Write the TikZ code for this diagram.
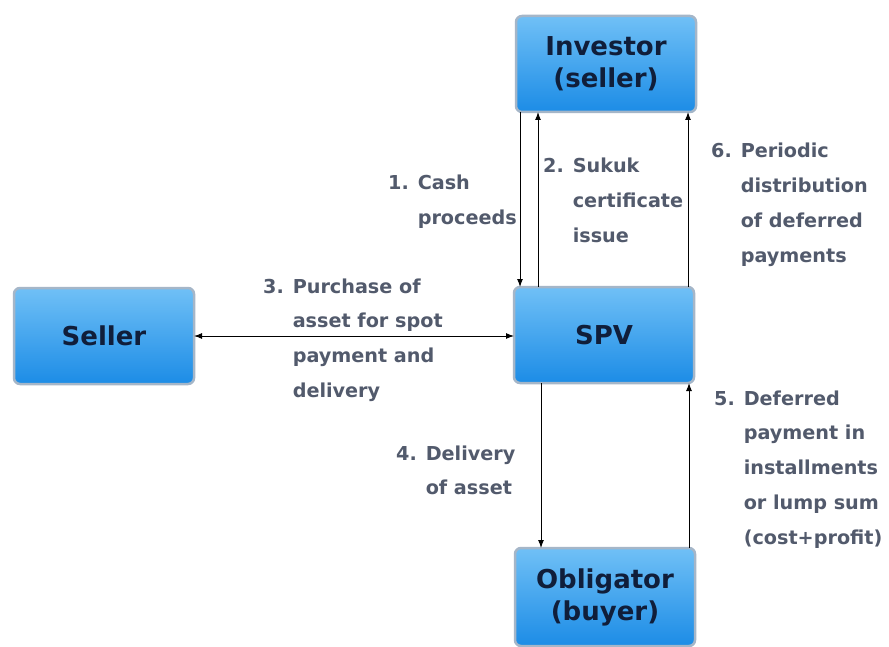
\documentclass[tikz,border=0pt]{standalone}
\usepackage{fontspec}
\setmainfont{DejaVu Sans}
\usetikzlibrary{arrows.meta,calc}
\definecolor{lblcol}{RGB}{82,90,108}
\definecolor{boxtxt}{RGB}{16,30,58}
\definecolor{boxtop}{RGB}{112,192,246}
\definecolor{boxbot}{RGB}{28,140,230}
\definecolor{boxedge}{RGB}{165,182,200}
\begin{document}
\begin{tikzpicture}[x=1pt,y=-1pt,
  box/.style={rectangle, rounded corners=6pt, draw=boxedge, line width=2.5pt,
    top color=boxtop, bottom color=boxbot, minimum width=180pt, minimum height=96pt,
    inner sep=0pt, outer sep=0pt, text=boxtxt, align=center,
    font=\fontsize{26}{32}\selectfont\bfseries},
  lbl/.style={anchor=base west, inner sep=0pt, text=lblcol,
    font=\fontsize{19.2}{23}\selectfont\bfseries},
  arr/.style={draw=black, line width=1pt, -{Latex[length=8pt,width=6pt]}},
  darr/.style={draw=black, line width=1pt, {Latex[length=8pt,width=6pt]}-{Latex[length=8pt,width=6pt]}}]
\useasboundingbox[fill=white] (0,0) rectangle (889,647);
\renewcommand{\arraystretch}{1.52}

\node[box] (inv) at (606,64) {Investor\\(seller)};
\node[box] (spv) at (604,335) {SPV};
\node[box] (sel) at (104,336) {Seller};
\node[box, minimum height=98pt] (obl) at (605,597) {Obligator\\(buyer)};

% arrows
\draw[arr] ([xshift=4pt]inv.south west) -- ([xshift=4pt]inv.south west |- spv.north);
\draw[arr] ([xshift=24pt]spv.north west) -- ([xshift=24pt]spv.north west |- inv.south);
\draw[arr] ([xshift=-6pt]spv.north east) -- ([xshift=-6pt]spv.north east |- inv.south);
\draw[darr] (sel.east) -- (sel.east -| spv.west);
\draw[arr] ([xshift=27pt]spv.south west) -- ([xshift=27pt]spv.south west |- obl.north);
\draw[arr] ([xshift=-6pt]obl.north east) -- ([xshift=-6pt]obl.north east |- spv.south);

% labels
\node[lbl] (l1) at (388,190) {\begin{tabular}[t]{@{}l@{ }l@{}}1. & Cash\\ & proceeds\end{tabular}};
\node[lbl] (l2) at (543,173) {\begin{tabular}[t]{@{}l@{ }l@{}}2. & Sukuk\\ & certificate\\ & issue\end{tabular}};
\node[lbl] (l6) at (711,158) {\begin{tabular}[t]{@{}l@{ }l@{}}6. & Periodic\\ & distribution\\ & of deferred\\ & payments\end{tabular}};
\node[lbl] (l3) at (263,293) {\begin{tabular}[t]{@{}l@{ }l@{}}3. & Purchase of\\ & asset for spot\\ & payment and\\ & delivery\end{tabular}};
\node[lbl] (l4) at (396,460) {\begin{tabular}[t]{@{}l@{ }l@{}}4. & Delivery\\ & of asset\end{tabular}};
\node[lbl] (l5) at (714,405) {\begin{tabular}[t]{@{}l@{ }l@{}}5. & Deferred\\ & payment in\\ & installments\\ & or lump sum\\ & (cost+profit)\end{tabular}};
\end{tikzpicture}
\end{document}
